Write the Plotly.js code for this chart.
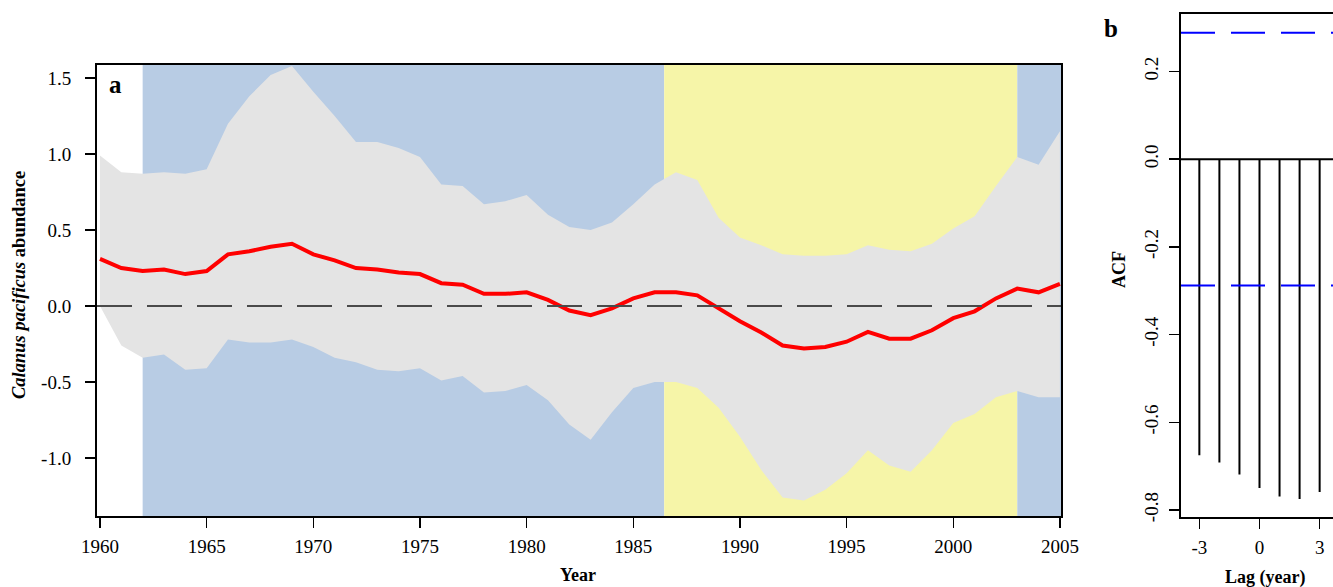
<!DOCTYPE html>
<html>
<head>
<meta charset="utf-8">
<script src="https://cdn.plot.ly/plotly-3.0.1.min.js"></script>
<style>
html,body{margin:0;padding:0;overflow:hidden;background:#fff;}
#chart{width:1345px;height:587px;}
</style>
</head>
<body>
<div id="chart"></div>
<script>
// ---------- Data ----------
const years = [1960,1961,1962,1963,1964,1965,1966,1967,1968,1969,1970,1971,1972,1973,1974,1975,1976,1977,1978,1979,1980,1981,1982,1983,1984,1985,1986,1987,1988,1989,1990,1991,1992,1993,1994,1995,1996,1997,1998,1999,2000,2001,2002,2003,2004,2005];
const upperCI = [0.99,0.88,0.87,0.88,0.87,0.90,1.20,1.38,1.52,1.58,1.41,1.25,1.08,1.08,1.04,0.98,0.80,0.79,0.67,0.69,0.73,0.60,0.52,0.50,0.55,0.67,0.80,0.88,0.83,0.58,0.45,0.40,0.34,0.33,0.33,0.34,0.40,0.37,0.36,0.41,0.51,0.59,0.79,0.98,0.93,1.15];
const lowerCI = [0.00,-0.26,-0.34,-0.32,-0.42,-0.41,-0.22,-0.24,-0.24,-0.22,-0.27,-0.34,-0.37,-0.42,-0.43,-0.41,-0.49,-0.46,-0.57,-0.56,-0.52,-0.62,-0.78,-0.88,-0.70,-0.54,-0.50,-0.50,-0.54,-0.67,-0.86,-1.08,-1.26,-1.28,-1.21,-1.10,-0.95,-1.05,-1.09,-0.95,-0.77,-0.71,-0.60,-0.56,-0.60,-0.60];
const abundance = [0.31,0.25,0.23,0.24,0.21,0.23,0.34,0.36,0.39,0.41,0.34,0.30,0.25,0.24,0.22,0.21,0.15,0.14,0.08,0.08,0.09,0.04,-0.03,-0.06,-0.015,0.05,0.09,0.09,0.07,-0.015,-0.10,-0.175,-0.26,-0.28,-0.27,-0.235,-0.17,-0.215,-0.215,-0.16,-0.08,-0.035,0.05,0.115,0.09,0.145];

const regimeStart = [1962, 1986.45, 2003];
const regimeEnd   = [1986.45, 2003, 2005.05];
const regimeColor = ["#b8cce4", "#f6f5a8", "#b8cce4"];

const yTickVals = [-1.0,-0.5,0.0,0.5,1.0,1.5];
const yTickText = ["-1.0","-0.5","0.0","0.5","1.0","1.5"];
const xTickVals = [1960,1965,1970,1975,1980,1985,1990,1995,2000,2005];
const xTickText = ["1960","1965","1970","1975","1980","1985","1990","1995","2000","2005"];

const lags = [-3,-2,-1,0,1,2,3];
const acf  = [-0.675,-0.692,-0.719,-0.750,-0.769,-0.775,-0.759];
const ciLimit = 0.288;
const acfTickVals = [-0.8,-0.6,-0.4,-0.2,0.0,0.2];
const acfTickText = ["-0.8","-0.6","-0.4","-0.2","0.0","0.2"];
const lagTickVals = [-3,0,3];
const lagTickText = ["-3","0","3"];

// ---------- Build ----------
const W = 1345, H = 587;
const FONT = "Liberation Serif";
const px = v => v / W;
const py = v => 1 - v / H;

const bandX = years.concat(years.slice().reverse());
const bandY = upperCI.concat(lowerCI.slice().reverse());

const acfX = [], acfY = [];
lags.forEach((l, i) => { acfX.push(l, l, null); acfY.push(0, acf[i], null); });

const traces = [
  {x: bandX, y: bandY, type: "scatter", mode: "lines", fill: "toself",
   fillcolor: "#e4e4e4", line: {width: 0, color: "#e4e4e4"}, hoverinfo: "skip",
   xaxis: "x", yaxis: "y"},
  {x: years, y: abundance, type: "scatter", mode: "lines",
   line: {color: "#ff0000", width: 4}, xaxis: "x", yaxis: "y"},
  {x: acfX, y: acfY, type: "scatter", mode: "lines",
   line: {color: "#000", width: 2}, xaxis: "x2", yaxis: "y2"}
];

const shapes = regimeStart.map((s, i) => ({
  type: "rect", xref: "x", yref: "y domain", x0: s, x1: regimeEnd[i], y0: 0, y1: 1,
  fillcolor: regimeColor[i], line: {width: 0}, layer: "below"
}));
shapes.push({type: "line", xref: "x domain", yref: "y", x0: 0, x1: 1, y0: 0, y1: 0,
  line: {color: "#4a4a4a", width: 2, dash: "35px,15px"}});
shapes.push({type: "line", xref: "x2 domain", yref: "y2", x0: 0, x1: 1, y0: 0, y1: 0,
  line: {color: "#000", width: 2}});
[ciLimit, -ciLimit].forEach(c => shapes.push({type: "line", xref: "x2 domain", yref: "y2",
  x0: 0, x1: 1, y0: c, y1: c, line: {color: "#0000ff", width: 2, dash: "34px,16px"}}));

function axis(extra) {
  return Object.assign({
    showline: true, linecolor: "#000", linewidth: 2, mirror: true,
    ticks: "outside", ticklen: 10, tickwidth: 1.5, tickcolor: "#000",
    showgrid: false, zeroline: false, tickmode: "array",
    tickfont: {family: FONT, size: 19, color: "#000"}
  }, extra);
}

const layout = {
  width: W, height: H,
  margin: {l: 0, r: 0, t: 0, b: 0},
  font: {family: FONT, size: 19, color: "#000"},
  paper_bgcolor: "#fff", plot_bgcolor: "rgba(0,0,0,0)",
  showlegend: false,
  xaxis: axis({domain: [px(97), px(1061)], range: [1959.86, 2005.05],
    tickvals: xTickVals, ticktext: xTickText, ticklabelstandoff: 2, anchor: "y"}),
  yaxis: axis({domain: [py(516), py(65)], range: [-1.382, 1.586],
    tickvals: yTickVals, ticktext: yTickText, ticklabelstandoff: 10, anchor: "x"}),
  xaxis2: axis({domain: [px(1181), px(1338)], range: [-3.915, 3.915],
    tickvals: lagTickVals, ticktext: lagTickText, ticklabelstandoff: 2, anchor: "y2"}),
  yaxis2: axis({domain: [py(517), py(14)], range: [-0.816, 0.331],
    tickvals: acfTickVals, ticktext: acfTickText, tickangle: -90,
    ticklabelstandoff: 3, anchor: "x2"}),
  shapes: shapes,
  annotations: [
    {text: "<b>a</b>", x: px(115), y: py(84), xref: "paper", yref: "paper", showarrow: false,
     xanchor: "center", yanchor: "middle", font: {family: FONT, size: 25, color: "#000"}},
    {text: "<b>b</b>", x: px(1111), y: py(28), xref: "paper", yref: "paper", showarrow: false,
     xanchor: "center", yanchor: "middle", font: {family: FONT, size: 25, color: "#000"}},
    {text: "<b><i>Calanus pacificus</i> abundance</b>", x: px(19), y: py(285), xref: "paper", yref: "paper",
     showarrow: false, textangle: -90, xanchor: "center", yanchor: "middle",
     font: {family: FONT, size: 18.5, color: "#000"}},
    {text: "<b>Year</b>", x: px(578), y: py(575), xref: "paper", yref: "paper", showarrow: false,
     xanchor: "center", yanchor: "middle", font: {family: FONT, size: 18, color: "#000"}},
    {text: "<b>ACF</b>", x: px(1119), y: py(270), xref: "paper", yref: "paper", showarrow: false,
     textangle: -90, xanchor: "center", yanchor: "middle", font: {family: FONT, size: 18, color: "#000"}},
    {text: "<b>Lag (year)</b>", x: px(1265), y: py(577), xref: "paper", yref: "paper", showarrow: false,
     xanchor: "center", yanchor: "middle", font: {family: FONT, size: 18, color: "#000"}}
  ]
};

Plotly.newPlot("chart", traces, layout, {staticPlot: true, displayModeBar: false});
</script>
</body>
</html>
